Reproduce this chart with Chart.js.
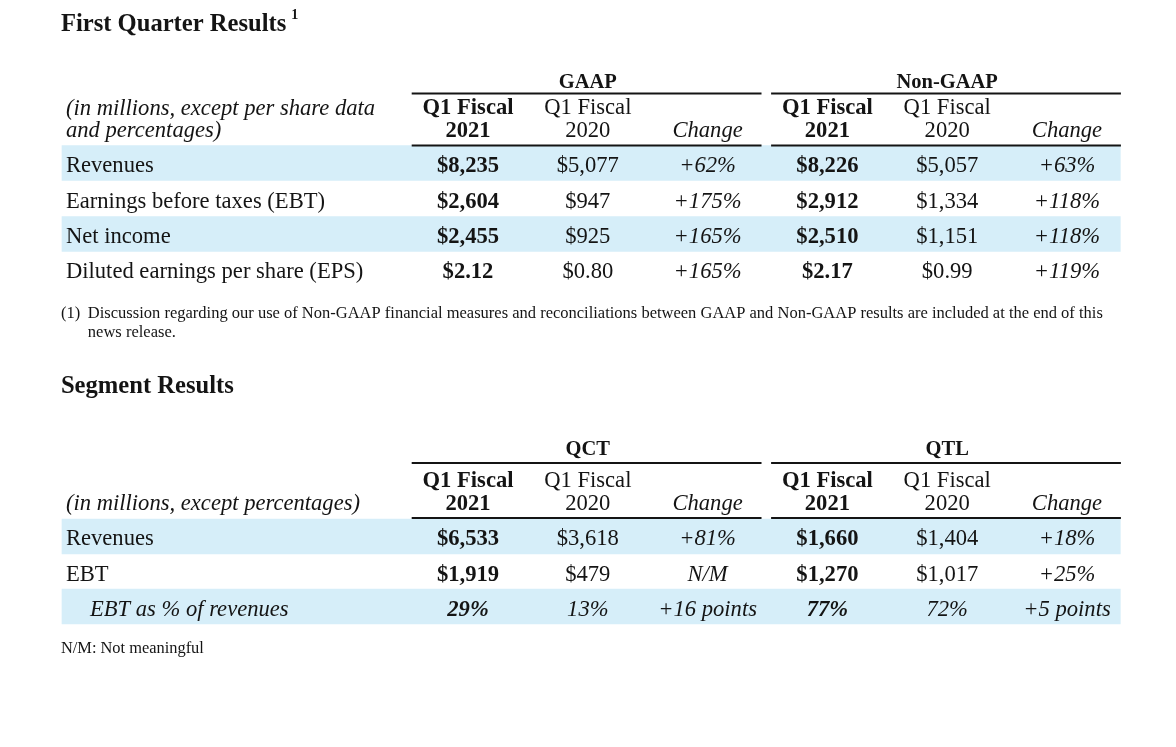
<!DOCTYPE html>
<html>
<head>
<meta charset="utf-8">
<title>First Quarter Results</title>
<script src="https://cdn.jsdelivr.net/npm/chart.js@4.4.1/dist/chart.umd.min.js"></script>
<style>
  html, body { margin: 0; padding: 0; background: #ffffff; }
  #wrap { width: 1176px; height: 747px; }
</style>
</head>
<body>
<div id="wrap"><canvas id="resultsTable" width="1176" height="747"></canvas></div>
<script>
// ---- First quarter results (GAAP / Non-GAAP) ----
var quarterRows = ['Revenues', 'Earnings before taxes (EBT)', 'Net income', 'Diluted earnings per share (EPS)'];
var gaapFY21 = ['$8,235', '$2,604', '$2,455', '$2.12'];
var gaapFY20 = ['$5,077', '$947', '$925', '$0.80'];
var gaapChange = ['+62%', '+175%', '+165%', '+165%'];
var nonGaapFY21 = ['$8,226', '$2,912', '$2,510', '$2.17'];
var nonGaapFY20 = ['$5,057', '$1,334', '$1,151', '$0.99'];
var nonGaapChange = ['+63%', '+118%', '+118%', '+119%'];

// ---- Segment results (QCT / QTL) ----
var segmentRows = ['Revenues', 'EBT', 'EBT as % of revenues'];
var qctFY21 = ['$6,533', '$1,919', '29%'];
var qctFY20 = ['$3,618', '$479', '13%'];
var qctChange = ['+81%', 'N/M', '+16 points'];
var qtlFY21 = ['$1,660', '$1,270', '77%'];
var qtlFY20 = ['$1,404', '$1,017', '72%'];
var qtlChange = ['+18%', '+25%', '+5 points'];

// ---- header texts ----
var quarterGroups = ['GAAP', 'Non-GAAP'];
var segmentGroups = ['QCT', 'QTL'];
var columnHeads = [['Q1 Fiscal', '2021'], ['Q1 Fiscal', '2020'], ['', 'Change']];
var quarterUnits = ['(in millions, except per share data', 'and percentages)'];
var segmentUnits = ['(in millions, except percentages)'];
var titleText = 'First Quarter Results';
var segmentTitle = 'Segment Results';
var footnoteLines = ['Discussion regarding our use of Non-GAAP financial measures and reconciliations between GAAP and Non-GAAP results are included at the end of this', 'news release.'];
var nmNote = 'N/M: Not meaningful';

// ---- layout (x in column units, y in page pixels) ----
var SERIF = "'Liberation Serif', 'Times New Roman', serif";
var INK = '#141414';
var BAND = '#d6eef9';
var BODY = '22.6px ';
var X_MIN = -2.9065, X_MAX = 6.9098;
var LABEL_X = -2.356, INDENT_X = -2.156, PAGE_X = -2.398, NOTE_X = -2.173;
var BAND_LEFT = -2.389, BAND_RIGHT = 6.445;

var quarterLayout = {
    groupBase: 88, groupLine: 93.5, head1: 114, head2: 137, headLine: 145.5,
    unitBase: [115, 137], rowBase: [172, 208, 243, 278], bandY: [163, 234]
};
var segmentLayout = {
    groupBase: 455, groupLine: 463, head1: 487, head2: 510, headLine: 518,
    unitBase: [510], rowBase: [545, 581, 616], bandY: [536.5, 606.5]
};

var quarterTable = {
    layout: quarterLayout, groups: quarterGroups, units: quarterUnits, rows: quarterRows,
    italicRows: [],
    columns: [gaapFY21, gaapFY20, gaapChange, nonGaapFY21, nonGaapFY20, nonGaapChange]
};
var segmentTable = {
    layout: segmentLayout, groups: segmentGroups, units: segmentUnits, rows: segmentRows,
    italicRows: [2],
    columns: [qctFY21, qctFY20, qctChange, qtlFY21, qtlFY20, qtlChange]
};

var bandData = quarterLayout.bandY.concat(segmentLayout.bandY).map(function (y) {
    return { x: [BAND_LEFT, BAND_RIGHT], y: y };
});

var tablePlugin = {
    id: 'tableText',
    afterDatasetsDraw: function (chart) {
        var ctx = chart.ctx;
        var xs = chart.scales.x;
        var ys = chart.scales.y;
        var X = function (v) { return xs.getPixelForValue(v); };
        var Y = function (v) { return ys.getPixelForValue(v); };

        var text = function (str, x, y, font, align) {
            ctx.font = font;
            ctx.fillStyle = INK;
            ctx.textAlign = align || 'left';
            ctx.textBaseline = 'alphabetic';
            ctx.fillText(str, X(x), Y(y));
        };
        var rule = function (x0, x1, y, w) {
            ctx.beginPath();
            ctx.strokeStyle = INK;
            ctx.lineWidth = w;
            ctx.moveTo(X(x0), Y(y));
            ctx.lineTo(X(x1), Y(y));
            ctx.stroke();
        };

        var drawTable = function (t) {
            var L = t.layout;
            t.groups.forEach(function (g, gi) {
                var first = 1 + gi * 3;
                text(g, first + 1, L.groupBase, 'bold 20.5px ' + SERIF, 'center');
                rule(first - 0.47, first + 2 + 0.45, L.groupLine, 2);
                rule(first - 0.47, first + 2 + 0.45, L.headLine, 2);
                columnHeads.forEach(function (h, ci) {
                    var style = ci === 0 ? 'bold ' : (ci === 2 ? 'italic ' : '');
                    if (h[0]) text(h[0], first + ci, L.head1, style + BODY + SERIF, 'center');
                    text(h[1], first + ci, L.head2, style + BODY + SERIF, 'center');
                });
            });
            t.units.forEach(function (u, ui) {
                text(u, LABEL_X, L.unitBase[ui], 'italic ' + BODY + SERIF);
            });
            t.rows.forEach(function (r, ri) {
                var it = t.italicRows.indexOf(ri) >= 0;
                text(r, it ? INDENT_X : LABEL_X, L.rowBase[ri], (it ? 'italic ' : '') + BODY + SERIF);
                t.columns.forEach(function (col, ci) {
                    var kind = ci % 3;
                    var style = kind === 0 ? (it ? 'italic bold ' : 'bold ') : (kind === 2 || it ? 'italic ' : '');
                    text(col[ri], ci + 1, L.rowBase[ri], style + BODY + SERIF, 'center');
                });
            });
        };

        ctx.save();
        // titles
        text(titleText, PAGE_X, 31, 'bold 24.6px ' + SERIF);
        ctx.font = 'bold 24.6px ' + SERIF;
        var tw = ctx.measureText(titleText).width;
        ctx.font = 'bold 14px ' + SERIF;
        ctx.fillStyle = INK;
        ctx.textAlign = 'left';
        ctx.fillText('1', X(PAGE_X) + tw + 5, Y(19));
        text(segmentTitle, PAGE_X, 393, 'bold 24.6px ' + SERIF);

        drawTable(quarterTable);
        drawTable(segmentTable);

        // footnotes
        text('(1)', PAGE_X, 318, '16.5px ' + SERIF);
        text(footnoteLines[0], NOTE_X, 318, '16.5px ' + SERIF);
        text(footnoteLines[1], NOTE_X, 337, '16.5px ' + SERIF);
        text(nmNote, PAGE_X, 653, '16.4px ' + SERIF);
        ctx.restore();
    }
};

new Chart(document.getElementById('resultsTable'), {
    type: 'bar',
    data: {
        datasets: [{
            label: 'row shading',
            data: bandData,
            backgroundColor: BAND,
            borderWidth: 0,
            barThickness: 35
        }]
    },
    options: {
        indexAxis: 'y',
        responsive: false,
        animation: false,
        devicePixelRatio: 1,
        layout: { padding: 0 },
        scales: {
            x: { type: 'linear', min: X_MIN, max: X_MAX, offset: false, display: false },
            y: { type: 'linear', min: 0, max: 747, reverse: true, offset: false, display: false }
        },
        plugins: {
            legend: { display: false },
            tooltip: { enabled: false }
        }
    },
    plugins: [tablePlugin]
});
</script>
</body>
</html>
